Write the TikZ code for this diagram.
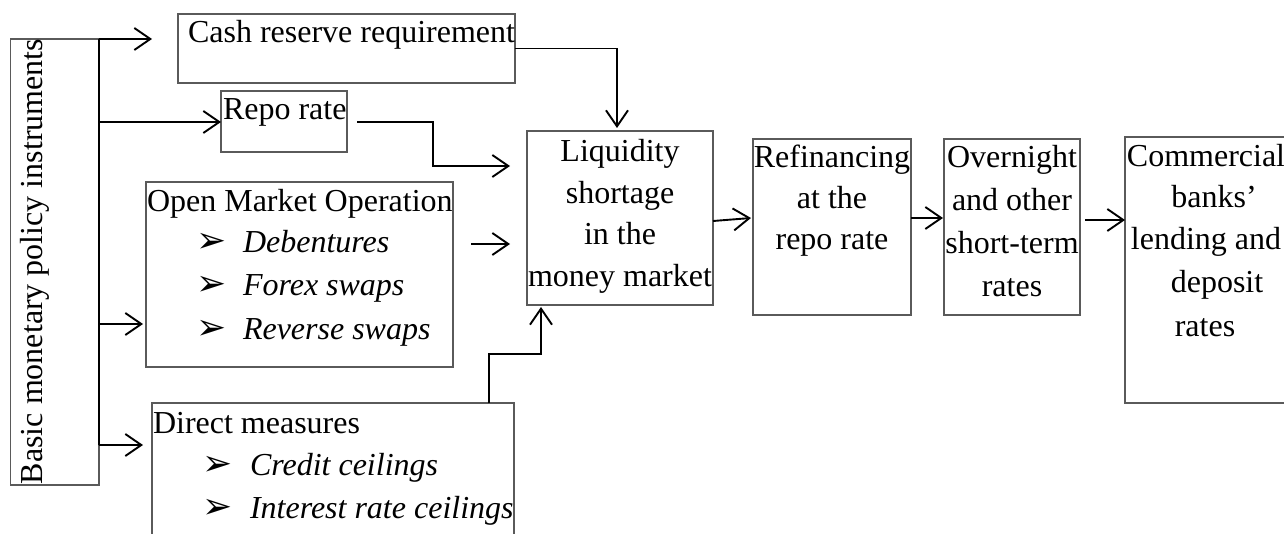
\documentclass[tikz,border=0pt]{standalone}
\usepackage{fontspec}
\setmainfont{Liberation Serif}
\newfontfamily\dejavu{DejaVu Sans}
\usetikzlibrary{arrows.meta}
\definecolor{boxgray}{HTML}{5A5A5A}
\begin{document}
\begin{tikzpicture}[x=1pt,y=-1pt,
  box/.style={draw=boxgray, line width=1.3pt, inner sep=0pt, outer sep=0pt, anchor=north west},
  conn/.style={draw=black, line width=1.9pt},
  arr/.style={conn, -{Straight Barb[length=16pt,width=22pt]}},
  txt/.style={inner sep=0pt, outer sep=0pt, anchor=base, font=\fontsize{32}{42}\selectfont},
  txtl/.style={txt, anchor=base west},
  itm/.style={txtl, font=\fontsize{32}{42}\selectfont\itshape},
  bul/.style={inner sep=0pt, outer sep=0pt, anchor=base west, font=\dejavu\fontsize{36}{36}\selectfont}]
\useasboundingbox (0,0) rectangle (1284,534);
\clip (0,0) rectangle (1284,534);

% boxes
\node[box, minimum width=88.3pt, minimum height=446pt] (basic) at (10.7,39) {};
\node[box, minimum width=337pt, minimum height=69pt] (cash) at (178,14) {};
\node[box, minimum width=126pt, minimum height=61pt] (repo) at (221,91) {};
\node[box, minimum width=307pt, minimum height=185pt] (omo) at (146,182) {};
\node[box, minimum width=362pt, minimum height=170pt] (direct) at (152,403) {};
\node[box, minimum width=186pt, minimum height=174pt] (liq) at (527,131) {};
\node[box, minimum width=158pt, minimum height=176pt] (ref) at (753,139) {};
\node[box, minimum width=136pt, minimum height=176pt] (over) at (944,139) {};
\node[box, minimum width=190pt, minimum height=266pt] (comm) at (1125,137) {};

% texts
\node[txt, rotate=90, anchor=base west] (tbasic) at (42,484) {Basic monetary policy instruments};
\node[txtl] (tcash) at (188,43) {Cash reserve requirement};
\node[txtl] (trepo) at (223,120) {Repo rate};
\node[txtl] (tomo) at (147,212) {Open Market Operation};
\node[bul] (b1) at (196,253) {➢};
\node[itm] (i1) at (243,253) {Debentures};
\node[bul] (b2) at (196,296) {➢};
\node[itm] (i2) at (243,296) {Forex swaps};
\node[bul] (b3) at (196,339) {➢};
\node[itm] (i3) at (243,339) {Reverse swaps};
\node[txtl] (tdir) at (153,433) {Direct measures};
\node[bul] (b4) at (202,475) {➢};
\node[itm] (i4) at (250,475) {Credit ceilings};
\node[bul] (b5) at (202,518) {➢};
\node[itm] (i5) at (250,518) {Interest rate ceilings};

\node[txt] (l1) at (620,162) {Liquidity};
\node[txt] (l2) at (620,204) {shortage};
\node[txt] (l3) at (620,245) {in the};
\node[txt] (l4) at (620,287) {money market};

\node[txt] (f1) at (832,168) {Refinancing};
\node[txt] (f2) at (832,209) {at the};
\node[txt] (f3) at (832,250) {repo rate};

\node[txt] (o1) at (1012,168) {Overnight};
\node[txt] (o2) at (1012,211) {and other};
\node[txt] (o3) at (1012,254) {short-term};
\node[txt] (o4) at (1012,297) {rates};

\node[txt] (c1) at (1206,167) {Commercial};
\node[txt] (c2) at (1214,208) {banks’};
\node[txt] (c3) at (1206,250) {lending and};
\node[txt] (c4) at (1217,293) {deposit};
\node[txt] (c5) at (1205,336) {rates};

% connectors
\coordinate (trunkbot) at (99,445);
\draw[conn] (basic.north east) -- (trunkbot);
\coordinate (a1) at (152,39);
\draw[arr] (basic.north east) -- (a1);
\coordinate (a2) at (221,122);
\draw[arr] (basic.east |- a2) -- (a2);
\coordinate (a3) at (143,324);
\draw[arr] (basic.east |- a3) -- (a3);
\coordinate (a4) at (143,445);
\draw[arr] (trunkbot) -- (a4);

\coordinate (r0) at (357,122);
\coordinate (rb) at (433,166);
\coordinate (r1) at (510,166);
\draw[arr] (r0) -| (rb) -- (r1);

\draw[arr] (cash.east) -| ([xshift=-3pt,yshift=3pt]liq.north);

\coordinate (m0) at (471,244);
\coordinate (m1) at (510,244);
\draw[arr] (m0) -- (m1);

\coordinate (d0) at (489,403);
\coordinate (dm) at (489,354);
\coordinate (d1) at (541,307);
\draw[arr] (d0) -- (dm) -| (d1);

\coordinate (lr0) at (713,221);
\coordinate (lr1) at (751,218);
\draw[arr] (lr0) -- (lr1);
\draw[arr] (ref.east |- lr1) -- ([xshift=-1pt]over.west |- lr1);
\coordinate (oc0) at (1085,220);
\draw[arr] (oc0) -- (comm.west |- oc0);
\end{tikzpicture}
\end{document}
